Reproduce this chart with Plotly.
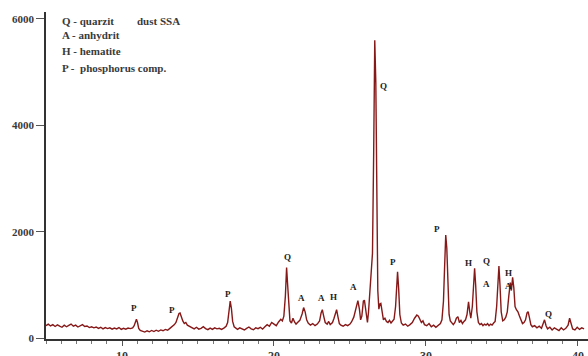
import plotly.graph_objects as go

# 2-theta (degrees) and intensity (counts)
two_theta = [
    5.0, 5.15, 5.3, 5.45, 5.6, 5.75, 5.9, 6.05, 6.2, 6.35, 6.5, 6.65, 6.8, 6.95, 7.1, 7.25, 7.4, 7.55, 7.7, 7.85,
    8.0, 8.15, 8.3, 8.45, 8.6, 8.75, 8.9, 9.05, 9.2, 9.35, 9.5, 9.65, 9.8, 9.95, 10.1, 10.25, 10.4, 10.55,
    10.7, 10.8, 10.88, 10.95, 11.02, 11.1, 11.2,
    11.35, 11.5, 11.65, 11.8, 11.95, 12.1, 12.25, 12.4, 12.55, 12.7, 12.85, 13.0, 13.15, 13.3, 13.45, 13.55,
    13.65, 13.75, 13.82, 13.9, 14.0, 14.1, 14.2, 14.3, 14.45,
    14.6, 14.75, 14.9, 15.05, 15.2, 15.35, 15.5, 15.65, 15.8, 15.95, 16.1, 16.25, 16.4, 16.55, 16.7, 16.85,
    16.95, 17.05, 17.12, 17.2, 17.28, 17.38, 17.5,
    17.6, 17.75, 17.9, 18.05, 18.2, 18.35, 18.5, 18.65, 18.8, 18.95, 19.1, 19.25, 19.4, 19.55, 19.7, 19.85,
    20.0, 20.15, 20.3, 20.45, 20.55, 20.65, 20.75, 20.83, 20.9, 20.98, 21.05, 21.15, 21.25, 21.35, 21.45,
    21.55, 21.7, 21.85, 21.95, 22.05, 22.15, 22.25, 22.4, 22.55, 22.7, 22.85, 23.0, 23.1, 23.18, 23.27,
    23.37, 23.5, 23.6, 23.7, 23.85, 23.95, 24.05, 24.12, 24.2, 24.3, 24.4, 24.55, 24.7, 24.85, 25.0, 25.1,
    25.25, 25.4, 25.52, 25.62, 25.7, 25.78, 25.88, 25.95, 26.05, 26.15, 26.22, 26.3, 26.38, 26.48, 26.56,
    26.63, 26.7, 26.76, 26.83, 26.9, 26.97, 27.03, 27.1, 27.2, 27.3, 27.4, 27.5, 27.6, 27.7, 27.8, 27.9,
    28.0, 28.07, 28.13, 28.2, 28.28, 28.38, 28.5, 28.65, 28.8, 28.95, 29.1, 29.25, 29.4, 29.5, 29.6, 29.7,
    29.8, 29.9, 30.05, 30.2, 30.35, 30.5, 30.65, 30.8, 30.95, 31.05, 31.15, 31.22, 31.3, 31.37, 31.44,
    31.52, 31.6, 31.7, 31.8, 31.9, 32.0, 32.1, 32.2, 32.3, 32.4, 32.5, 32.6, 32.7, 32.8, 32.88, 32.95,
    33.05, 33.13, 33.2, 33.27, 33.35, 33.45, 33.55, 33.65, 33.75, 33.85, 33.95, 34.05, 34.15, 34.25, 34.35,
    34.45, 34.55, 34.65, 34.72, 34.8, 34.87, 34.95, 35.05, 35.15, 35.25, 35.35, 35.45, 35.55, 35.62, 35.7,
    35.78, 35.86, 35.95, 36.05, 36.15, 36.25, 36.35, 36.45, 36.55, 36.65, 36.72, 36.8, 36.9, 37.0, 37.15,
    37.3, 37.45, 37.6, 37.7, 37.8, 37.9, 38.0, 38.15, 38.3, 38.45, 38.6, 38.75, 38.9, 39.05, 39.2, 39.35,
    39.45, 39.55, 39.65, 39.8, 39.95, 40.1, 40.25, 40.4,
]
intensity = [
    240, 270, 235, 260, 225, 255, 230, 210, 250, 220, 245, 270, 230, 250, 215, 240, 260, 225, 235, 205,
    220, 200, 215, 190, 210, 180, 205, 185, 200, 175, 195, 180, 205, 170, 190, 175, 195, 185,
    200, 240, 330, 360, 300, 190, 150,
    140, 120, 145, 125, 150, 130, 155, 135, 160, 145, 170, 155, 190, 220, 260, 300,
    380, 470, 480, 400, 330, 280, 300, 250, 230,
    200, 180, 210, 175, 190, 220, 185, 165, 195, 170, 200, 180, 190, 170, 195, 230,
    300, 520, 700, 560, 320, 220, 190,
    170, 200, 175, 160, 190, 215, 180, 165, 200, 185, 210, 175, 220, 260, 230, 300,
    270, 240, 310, 360, 330, 420, 800, 1330, 1000, 500, 330, 290, 380, 310, 270,
    300, 340, 460, 580, 500, 350, 290, 250, 280, 240, 270, 330, 480, 540, 420,
    300, 270, 320, 260, 300, 380, 500, 540, 420, 280, 250, 230, 260, 240, 270, 310,
    400, 600, 710, 550, 350, 420, 700, 720, 450, 300, 500, 900, 1100, 1600, 3500,
    5600, 4800, 2300, 900, 550, 650, 660, 480, 350, 380, 320, 300, 340, 290, 330, 360,
    600, 1000, 1250, 950, 450, 290, 250, 270, 230, 260, 300, 380, 440, 420, 370, 300,
    330, 260, 240, 280, 220, 250, 210, 240, 280, 350, 700, 1300, 1940, 1700, 900,
    450, 330, 300, 260, 300, 380, 410, 300, 340, 280, 320, 350, 450, 690, 500, 380,
    600, 1100, 1320, 1000, 500, 300, 260, 280, 240, 270, 250, 280, 240, 270, 250,
    290, 320, 600, 1100, 1360, 1000, 500, 330, 350, 400, 500, 800, 1050, 900, 1150,
    950, 600, 540, 500, 420, 330, 280, 300, 350, 480, 505, 400, 260, 220, 240,
    200, 230, 190, 260, 350, 240, 180, 210, 160, 200, 170, 150, 200, 160, 190, 250,
    380, 280, 180, 160, 210, 170, 200, 180,
]

# Phase labels over the peaks
peak_labels = ["P", "P", "P", "Q", "A", "A", "H", "A", "Q", "P", "P", "H", "Q", "A", "H", "A", "Q"]
peak_label_x = [10.8, 13.3, 17.0, 20.87, 21.8, 23.14, 23.9, 25.2, 27.2, 27.85, 30.7, 32.8, 33.95, 33.95, 35.4, 35.4, 38.07]
peak_label_y = [567, 535, 830, 1525, 755, 755, 775, 960, 4740, 1430, 2050, 1410, 1460, 1025, 1225, 985, 460]

legend_lines = ["Q - quarzit", "A - anhydrit", "H - hematite", "P -  phosphorus comp."]
sample_name = "dust SSA"

x_ticks = [10, 20, 30, 40]
y_ticks = [0, 2000, 4000, 6000]

serif = "Liberation Serif"
txt_color = "#3a3a3a"

fig = go.Figure()
fig.add_trace(go.Scatter(
    x=two_theta, y=intensity, mode="lines",
    line=dict(color="#861818", width=1.4), showlegend=False, hoverinfo="skip",
))

for t, xx, yy in zip(peak_labels, peak_label_x, peak_label_y):
    fig.add_annotation(x=xx, y=yy, text=t, showarrow=False,
                       font=dict(family=serif, size=9, color="#222222", weight="bold"),
                       xanchor="center", yanchor="middle")

legend_y = [5968, 5700, 5400, 5085]
for t, yy in zip(legend_lines, legend_y):
    fig.add_annotation(x=5.92, y=yy, text=t, showarrow=False,
                       font=dict(family=serif, size=11, color=txt_color, weight="bold"),
                       xanchor="left", yanchor="middle")
fig.add_annotation(x=10.86, y=5968, text=sample_name, showarrow=False,
                   font=dict(family=serif, size=11, color=txt_color, weight="bold"),
                   xanchor="left", yanchor="middle")

fig.update_xaxes(
    range=[5.0, 40.66], tickvals=x_ticks, ticktext=[str(v) for v in x_ticks],
    showline=True, linecolor="#333333", linewidth=1.5, mirror=False,
    ticks="outside", ticklen=5, tickwidth=1, tickcolor="#555555",
    minor=dict(dtick=1, tick0=0, ticks="outside", ticklen=3, tickcolor="#777777"),
    showgrid=False, zeroline=False, automargin=False,
    tickfont=dict(family=serif, size=12, color=txt_color, weight="bold"),
)
fig.update_yaxes(
    range=[-10, 6130], tickvals=y_ticks, ticktext=[str(v) for v in y_ticks],
    showline=True, linecolor="#333333", linewidth=1.5,
    ticks="outside", ticklen=8, tickwidth=1, tickcolor="#555555",
    showgrid=False, zeroline=False, automargin=False,
    tickfont=dict(family=serif, size=11, color=txt_color, weight="bold"),
)
fig.update_layout(
    width=588, height=356,
    margin=dict(l=46, r=0, t=12, b=17),
    paper_bgcolor="white", plot_bgcolor="white",
)
fig.write_html("out.html")
